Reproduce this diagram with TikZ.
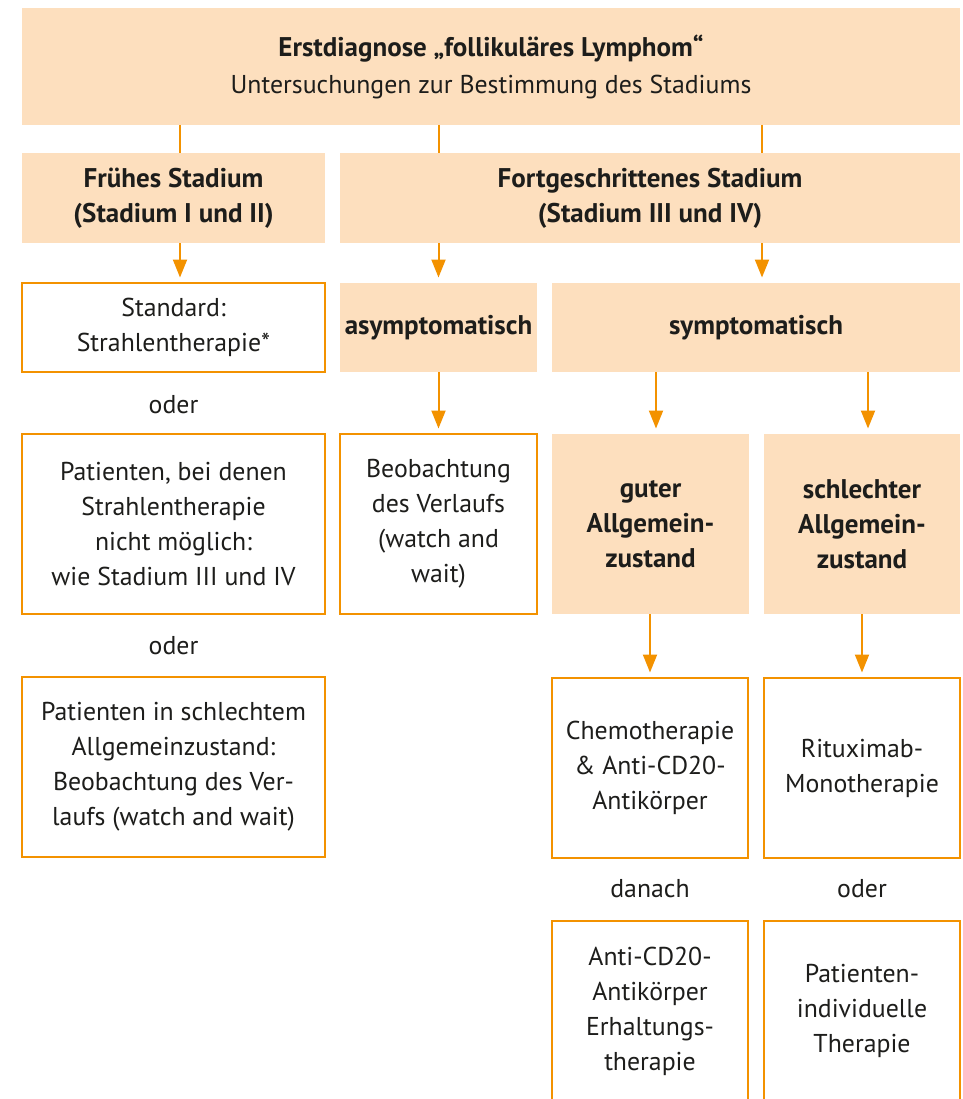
\documentclass[tikz,border=0pt]{standalone}
\usepackage{fontspec}
\setmainfont{PT Sans}
\usetikzlibrary{arrows.meta}
\definecolor{boxfill}{RGB}{253,223,190}
\definecolor{orng}{RGB}{243,146,0}
\definecolor{txt}{RGB}{29,29,27}
\newcommand{\bt}[1]{{\fontsize{27}{35}\selectfont\bfseries #1}}
\begin{document}
\begin{tikzpicture}[x=1pt,y=-1pt,
  base/.style={inner sep=0pt, outer sep=0pt, align=center, text=txt,
    font=\fontsize{25.8}{35}\selectfont},
  fbox/.style={base, fill=boxfill, draw=none},
  wbox/.style={base, fill=white, draw=orng, line width=1.3pt},
  lbl/.style={base},
  conn/.style={draw=orng, line width=2pt},
  arr/.style={conn, -{Triangle[width=14pt,length=18pt]}, shorten >=5.5pt}]
\useasboundingbox (0,0) rectangle (962,1099);
\clip (0,0) rectangle (962,1099);
% row 1
\node[fbox, minimum width=938, minimum height=117] (top) at (491,66.5)
  {\bt{Erstdiagnose „follikuläres Lymphom“}\\[2pt]Untersuchungen zur Bestimmung des Stadiums};
% row 2
\node[fbox, minimum width=303, minimum height=90] (fruh) at (173.5,198)
  {\bt{Frühes Stadium}\\\bt{(Stadium I und II)}};
\node[fbox, minimum width=620, minimum height=90] (fort) at (650,198)
  {\bt{Fortgeschrittenes Stadium}\\\bt{(Stadium III und IV)}};
% row 3
\node[wbox, minimum width=303, minimum height=89] (std) at (173.5,327.5)
  {Standard:\\Strahlentherapie*};
\node[fbox, minimum width=197, minimum height=89] (asym) at (438.5,327.5)
  {\bt{asymptomatisch}};
\node[fbox, minimum width=408, minimum height=89] (sym) at (756,327.5)
  {\bt{symptomatisch}};
% row 4
\node[lbl] (oder1) at (173.5,405) {oder};
\node[wbox, minimum width=303, minimum height=180] (pat1) at (173.5,524)
  {Patienten, bei denen\\Strahlentherapie\\nicht möglich:\\wie Stadium III und IV};
\node[wbox, minimum width=197, minimum height=180] (beob) at (438.5,524)
  {Beobachtung\\des Verlaufs\\(watch and\\wait)};
\node[fbox, minimum width=197, minimum height=180] (guter) at (650.5,524)
  {\bt{guter}\\\bt{Allgemein-}\\\bt{zustand}};
\node[fbox, minimum width=196, minimum height=180] (schl) at (862,524)
  {\bt{schlechter}\\\bt{Allgemein-}\\\bt{zustand}};
% row 5
\node[lbl] (oder2) at (173.5,646) {oder};
\node[wbox, minimum width=303, minimum height=180] (pat2) at (173.5,767)
  {Patienten in schlechtem\\Allgemeinzustand:\\Beobachtung des Ver-\\laufs (watch and wait)};
\node[wbox, minimum width=196, minimum height=180] (chemo) at (650,768)
  {Chemotherapie\\\& Anti-CD20-\\Antikörper};
\node[wbox, minimum width=196, minimum height=180] (ritux) at (862,768)
  {Rituximab-\\Monotherapie};
% row 6
\node[lbl] (danach) at (650,889) {danach};
\node[lbl] (oder3) at (862,889) {oder};
\node[wbox, minimum width=196, minimum height=180] (anti) at (650,1011)
  {Anti-CD20-\\Antikörper\\Erhaltungs-\\therapie};
\node[wbox, minimum width=196, minimum height=180] (indiv) at (862,1011)
  {Patienten-\\individuelle\\Therapie};
% connectors
\draw[conn] ([xshift=6.5pt]fruh.north |- top.south) -- ([xshift=6.5pt]fruh.north);
\draw[conn] (asym.north |- top.south) -- (asym.north |- fort.north);
\draw[conn] ([xshift=6pt]sym.north |- top.south) -- ([xshift=6pt]sym.north |- fort.north);
\draw[arr] ([xshift=6.5pt]fruh.south) -- ([xshift=6.5pt]std.north);
\draw[arr] (asym.north |- fort.south) -- (asym.north);
\draw[arr] ([xshift=6pt]sym.north |- fort.south) -- ([xshift=6pt]sym.north);
\draw[arr] (asym.south) -- (beob.north);
\draw[arr] ([xshift=5.5pt]guter.north |- sym.south) -- ([xshift=5.5pt]guter.north);
\draw[arr] ([xshift=6pt]schl.north |- sym.south) -- ([xshift=6pt]schl.north);
\draw[arr] (chemo.north |- guter.south) -- (chemo.north);
\draw[arr] (ritux.north |- schl.south) -- (ritux.north);
\end{tikzpicture}
\end{document}
